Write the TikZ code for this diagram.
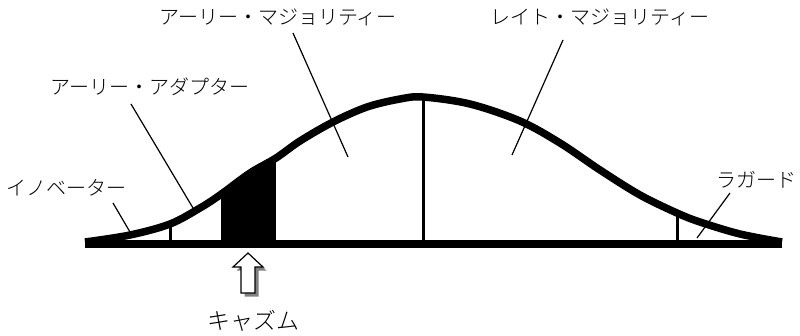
\documentclass[tikz,border=0pt]{standalone}
\usepackage{fontspec}
\newfontfamily\jpfont[UprightFont={* Light}]{Noto Sans CJK JP}
\usepackage{tikz}
\usetikzlibrary{calc, positioning}
\definecolor{shadowgray}{RGB}{128, 128, 128}

\begin{document}
\begin{tikzpicture}[x=1pt, y=-1pt,
    label/.style={font=\jpfont\fontsize{20}{24}\selectfont, inner sep=0pt},
    leader/.style={line width=1.2pt},
    divider/.style={line width=3pt}]
  \useasboundingbox (0,0) rectangle (800,335);
  % bell curve, saved once and reused
  \path[save path=\bellpath] plot[smooth, tension=0.55] coordinates {
    (85,242) (130,235) (170,224) (200,208) (220,195) (250,173) (276,158)
    (300,141) (333,122) (367,107) (400,99) (423,97) (470,104) (520,121)
    (560,143) (600,170) (640,195) (677,213) (700,222) (740,234) (782,242)};
  % chasm and dividers, clipped to the area below the curve
  \begin{scope}
    \clip[use path=\bellpath];
    \fill (221,90) rectangle (276,246);
    \draw[divider] (170,90) -- (170,246);
    \draw[divider] (423,90) -- (423,246);
    \draw[divider] (677,90) -- (677,246);
  \end{scope}
  \draw[line width=7.5pt, use path=\bellpath];
  \draw[line width=8pt] (85,244) -- (782,244);
  % labels
  \node[label] (innov) at (66,188) {イノベーター};
  \node[label] (adopt) at (150,87) {アーリー・アダプター};
  \node[label] (early) at (278,17) {アーリー・マジョリティー};
  \node[label] (late) at (600,17) {レイト・マジョリティー};
  \node[label] (lagg) at (756,180) {ラガード};
  \node[label, font=\jpfont\fontsize{23}{27}\selectfont] (chasm) at (253,321) {キャズム};
  % leader lines
  \coordinate (innov-a) at (113,203);  \coordinate (innov-b) at (130,232);
  \coordinate (adopt-a) at (131,104);  \coordinate (adopt-b) at (193,208);
  \coordinate (early-a) at (293,33);   \coordinate (early-b) at (348,157);
  \coordinate (late-a) at (563,40);    \coordinate (late-b) at (512,155);
  \coordinate (lagg-a) at (730,193);   \coordinate (lagg-b) at (697,238);
  \draw[leader] (innov-a) -- (innov-b);
  \draw[leader] (adopt-a) -- (adopt-b);
  \draw[leader] (early-a) -- (early-b);
  \draw[leader] (late-a) -- (late-b);
  \draw[leader] (lagg-a) -- (lagg-b);
  % hollow arrow with shadow
  \fill[shadowgray, shift={(3.5,3.5)}] (248,253) -- (263,267) -- (255,267) -- (255,293)
    -- (241,293) -- (241,267) -- (233,267) -- cycle;
  \draw[line width=1.2pt, fill=white] (248,253) -- (263,267) -- (255,267) -- (255,293)
    -- (241,293) -- (241,267) -- (233,267) -- cycle;
\end{tikzpicture}
\end{document}
